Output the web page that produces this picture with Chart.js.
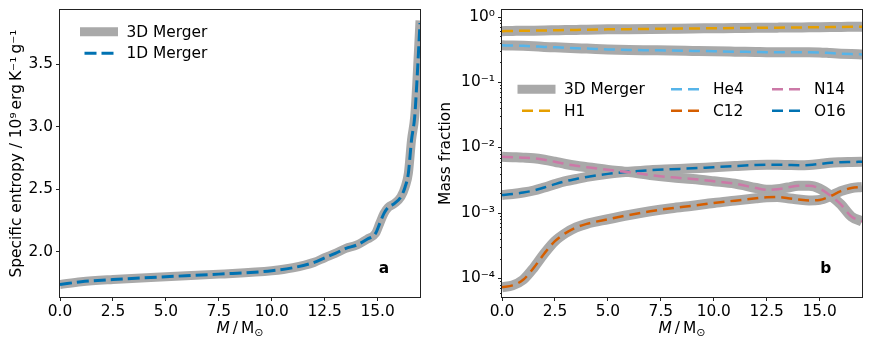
<!DOCTYPE html>
<html>
<head>
<meta charset="utf-8">
<script src="https://cdn.jsdelivr.net/npm/chart.js@4.4.1/dist/chart.umd.min.js"></script>
<style>
  html, body { margin: 0; padding: 0; background: #fff; }
  #wrap { position: relative; width: 872px; height: 345px; }
  canvas { position: absolute; top: 0; }
</style>
</head>
<body>
<div id="wrap">
  <canvas id="entropyChart" width="430" height="345" style="left:0px"></canvas>
  <canvas id="abundChart" width="442" height="345" style="left:430px"></canvas>
</div>
<script>
// panel a: specific entropy (10^9 erg/K/g) against mass coordinate
const massA = [0, 1, 2.5, 5, 7.5, 10, 11, 12, 12.5, 13, 13.5, 14, 14.5, 14.9, 15.1, 15.3, 15.5, 15.8, 16.1, 16.3, 16.45, 16.6, 16.75, 16.85, 17.0];
const entropy3D = [1.738, 1.76, 1.778, 1.80, 1.821, 1.848, 1.872, 1.915, 1.952, 1.987, 2.027, 2.053, 2.10, 2.147, 2.227, 2.307, 2.355, 2.387, 2.44, 2.52, 2.627, 2.894, 3.08, 3.35, 3.85];
const entropy1D = [1.738, 1.76, 1.778, 1.80, 1.821, 1.848, 1.872, 1.915, 1.952, 1.987, 2.027, 2.053, 2.10, 2.147, 2.227, 2.307, 2.355, 2.387, 2.44, 2.52, 2.627, 2.894, 3.08, 3.35, 3.83];

// panel b: mass fractions
const massB = [0, 0.5, 1, 1.5, 2, 2.5, 3, 3.5, 4, 5, 6, 7, 8, 9, 10, 11, 12, 12.5, 13, 13.5, 14, 14.5, 15, 15.5, 16, 16.5, 17];
const h1  = [0.60, 0.605, 0.61, 0.612, 0.615, 0.62, 0.625, 0.628, 0.63, 0.64, 0.645, 0.65, 0.655, 0.66, 0.665, 0.67, 0.675, 0.678, 0.68, 0.682, 0.685, 0.688, 0.69, 0.693, 0.697, 0.70, 0.703];
const he4 = [0.365, 0.362, 0.358, 0.352, 0.345, 0.34, 0.334, 0.329, 0.325, 0.316, 0.31, 0.307, 0.304, 0.30, 0.296, 0.292, 0.288, 0.286, 0.285, 0.285, 0.285, 0.285, 0.284, 0.278, 0.272, 0.268, 0.265];
const c12 = [7.3e-5, 7.8e-5, 9.5e-5, 1.45e-4, 2.4e-4, 3.7e-4, 4.9e-4, 6.0e-4, 6.8e-4, 8.0e-4, 9.3e-4, 1.06e-3, 1.18e-3, 1.29e-3, 1.42e-3, 1.54e-3, 1.67e-3, 1.73e-3, 1.75e-3, 1.68e-3, 1.6e-3, 1.55e-3, 1.58e-3, 1.8e-3, 2.15e-3, 2.4e-3, 2.5e-3];
const n14 = [7.2e-3, 7.1e-3, 7.0e-3, 6.85e-3, 6.5e-3, 6.05e-3, 5.6e-3, 5.25e-3, 5.0e-3, 4.55e-3, 4.2e-3, 3.8e-3, 3.5e-3, 3.3e-3, 3.05e-3, 2.8e-3, 2.4e-3, 2.25e-3, 2.3e-3, 2.45e-3, 2.6e-3, 2.6e-3, 2.35e-3, 1.85e-3, 1.35e-3, 8.8e-4, 7.4e-4];
const o16 = [1.88e-3, 1.95e-3, 2.05e-3, 2.2e-3, 2.45e-3, 2.75e-3, 3.05e-3, 3.3e-3, 3.55e-3, 3.95e-3, 4.25e-3, 4.5e-3, 4.65e-3, 4.8e-3, 5.0e-3, 5.2e-3, 5.4e-3, 5.45e-3, 5.45e-3, 5.4e-3, 5.35e-3, 5.4e-3, 5.6e-3, 5.85e-3, 5.95e-3, 6.0e-3, 6.05e-3];
const speciesNames = ['H1', 'He4', 'C12', 'N14', 'O16'];
const speciesData = [h1, he4, c12, n14, o16];
const speciesColors = ['#E69F00', '#56B4E9', '#D55E00', '#CC79A7', '#0072B2'];

// ticks
const massTicks = [0, 2.5, 5, 7.5, 10, 12.5, 15];
const entropyTicks = [2.0, 2.5, 3.0, 3.5];
const fracTicks = [1e-4, 1e-3, 1e-2, 1e-1, 1];
const supDigits = { '-': '\u207B', '0': '\u2070', '1': '\u00B9', '2': '\u00B2', '3': '\u00B3', '4': '\u2074', '5': '\u2075', '6': '\u2076', '7': '\u2077', '8': '\u2078', '9': '\u2079' };

const FONT = "'DejaVu Sans', sans-serif";
const GREY = '#a9a9a9';
const FS = 15.4;

function pts(xs, ys) { return xs.map((x, i) => ({ x: x, y: ys[i] })); }

function fixAxis(w, h) {
  return function (scale) {
    if (w != null) scale.width = w;
    if (h != null) scale.height = h;
    scale.paddingTop = 0; scale.paddingBottom = 0;
    scale.paddingLeft = 0; scale.paddingRight = 0;
  };
}

function supPow(v) {
  const e = Math.round(Math.log10(v));
  return '10' + String(e).split('').map(c => supDigits[c]).join('');
}

// frame, axis titles, legend and panel letter
function decor(o) {
  return {
    id: 'decor',
    afterDraw(chart) {
      const ctx = chart.ctx, a = chart.chartArea;
      ctx.save();
      // minor ticks on log axis
      if (o.minorTicks) {
        const ys = chart.scales.y;
        ctx.strokeStyle = '#222'; ctx.lineWidth = 1;
        for (let e = -5; e <= 0; e++) {
          for (let k = 1; k <= 9; k++) {
            const v = k * Math.pow(10, e);
            if (v < ys.min || v > ys.max) continue;
            const py = Math.round(ys.getPixelForValue(v)) + 0.5;
            const len = k === 1 ? 4 : 2;
            ctx.beginPath(); ctx.moveTo(a.left - len, py); ctx.lineTo(a.left, py); ctx.stroke();
          }
        }
      }
      // frame
      ctx.strokeStyle = '#222'; ctx.lineWidth = 1;
      ctx.strokeRect(Math.round(a.left) - 0.5, Math.round(a.top) - 0.5, Math.round(a.right - a.left) + 1, Math.round(a.bottom - a.top) + 1);

      ctx.fillStyle = '#000';
      // x title: M / M_sun
      const cx = (a.left + a.right) / 2, by = 333;
      const parts = [
        { t: 'M', f: 'italic ' + FS + 'px ' + FONT, dy: 0 },
        { t: '\u2009/\u2009', f: FS + 'px ' + FONT, dy: 0 },
        { t: 'M', f: FS + 'px ' + FONT, dy: 0 },
        { t: '\u2299', f: '11px ' + FONT, dy: 3 }
      ];
      let tw = 0;
      parts.forEach(p => { ctx.font = p.f; p.w = ctx.measureText(p.t).width; tw += p.w; });
      let x = cx - tw / 2;
      ctx.textBaseline = 'alphabetic'; ctx.textAlign = 'left';
      parts.forEach(p => { ctx.font = p.f; ctx.fillText(p.t, x, by + p.dy); x += p.w; });

      // y title
      ctx.save();
      ctx.translate(o.yTitleX, (a.top + a.bottom) / 2);
      ctx.rotate(-Math.PI / 2);
      ctx.font = FS + 'px ' + FONT; ctx.textAlign = 'center'; ctx.textBaseline = 'middle';
      ctx.fillText(o.yTitle, 0, 0);
      ctx.restore();

      // legend
      ctx.textAlign = 'left'; ctx.textBaseline = 'middle';
      ctx.font = FS + 'px ' + FONT;
      o.legend.forEach(it => {
        ctx.save();
        ctx.beginPath();
        if (it.patch) {
          ctx.strokeStyle = GREY; ctx.lineWidth = 9; ctx.lineCap = 'butt';
          ctx.moveTo(it.x - 4.5, it.y); ctx.lineTo(it.x + 29 + 4.5, it.y);
        } else {
          ctx.strokeStyle = it.color; ctx.lineWidth = it.lw; ctx.lineCap = 'butt';
          ctx.setLineDash(it.dash);
          ctx.moveTo(it.x, it.y); ctx.lineTo(it.x + 29, it.y);
        }
        ctx.stroke();
        ctx.restore();
        ctx.fillText(it.label, it.x + 42, it.y + 1);
      });

      // panel letter
      ctx.font = 'bold ' + FS + 'px ' + FONT; ctx.textAlign = 'center';
      ctx.fillText(o.letter, o.letterX, 269);
      ctx.restore();
    }
  };
}

function axisCommon() {
  return {
    grid: { drawOnChartArea: false, drawTicks: true, tickLength: 4, color: '#222', lineWidth: 1 },
    border: { display: false },
    ticks: { color: '#000', padding: 3, font: { family: FONT, size: FS } }
  };
}

function xAxis() {
  const ax = axisCommon();
  ax.type = 'linear'; ax.min = 0; ax.max = 17.0;
  ax.afterBuildTicks = s => { s.ticks = massTicks.map(v => ({ value: v })); };
  ax.ticks.callback = v => v.toFixed(1);
  ax.ticks.maxRotation = 0;
  ax.ticks.padding = 2;
  ax.afterFit = fixAxis(null, 48);
  return ax;
}

// panel a
const yA = axisCommon();
yA.type = 'linear'; yA.min = 1.638; yA.max = 3.934;
yA.afterBuildTicks = s => { s.ticks = entropyTicks.map(v => ({ value: v })); };
yA.ticks.callback = v => v.toFixed(1);
yA.afterFit = fixAxis(60, null);

new Chart(document.getElementById('entropyChart'), {
  type: 'line',
  data: {
    datasets: [
      { label: '1D Merger', data: pts(massA, entropy1D), borderColor: '#0072B2', borderWidth: 3, borderDash: [12, 5], pointRadius: 0, cubicInterpolationMode: 'monotone', clip: 0, order: 0 },
      { label: '3D Merger', data: pts(massA, entropy3D), borderColor: GREY, borderWidth: 9, pointRadius: 0, cubicInterpolationMode: 'monotone', clip: 0, order: 1 }
    ]
  },
  options: {
    responsive: false, animation: false,
    layout: { padding: { left: 0, top: 10, right: 10, bottom: 0 } },
    plugins: { legend: { display: false }, tooltip: { enabled: false } },
    scales: { x: xAxis(), y: yA }
  },
  plugins: [decor({
    yTitle: 'Specific entropy / 10\u2079\u2009erg\u2009K\u207B\u00B9\u2009g\u207B\u00B9',
    yTitleX: 17,
    letter: 'a', letterX: 384,
    legend: [
      { patch: true, x: 84.5, y: 31.7, label: '3D Merger' },
      { color: '#0072B2', lw: 3, dash: [12, 5], x: 84.5, y: 53.3, label: '1D Merger' }
    ]
  })]
});

// panel b
const yB = axisCommon();
yB.type = 'logarithmic'; yB.min = 5.18e-5; yB.max = 1.265;
yB.grid.display = false;
yB.afterBuildTicks = s => { s.ticks = fracTicks.map(v => ({ value: v, major: true })); };
yB.ticks.callback = v => supPow(v);
yB.afterFit = fixAxis(72, null);

const dsB = [];
speciesData.forEach((arr, i) => {
  dsB.push({ label: speciesNames[i], data: pts(massB, arr), borderColor: speciesColors[i], borderWidth: 2.5, borderDash: [11, 6], pointRadius: 0, cubicInterpolationMode: 'monotone', clip: 0, order: 0 });
});
speciesData.forEach((arr, i) => {
  dsB.push({ label: '3D ' + speciesNames[i], data: pts(massB, arr), borderColor: GREY, borderWidth: 10, pointRadius: 0, cubicInterpolationMode: 'monotone', clip: 0, order: 1 });
});

new Chart(document.getElementById('abundChart'), {
  type: 'line',
  data: { datasets: dsB },
  options: {
    responsive: false, animation: false,
    layout: { padding: { left: 0, top: 10, right: 10, bottom: 0 } },
    plugins: { legend: { display: false }, tooltip: { enabled: false } },
    scales: { x: xAxis(), y: yB }
  },
  plugins: [decor({
    minorTicks: true,
    yTitle: 'Mass fraction',
    yTitleX: 16,
    letter: 'b', letterX: 395.7,
    legend: [
      { patch: true, x: 92, y: 89.3, label: '3D Merger' },
      { color: speciesColors[0], lw: 2.5, dash: [11, 6], x: 92, y: 110.7, label: 'H1' },
      { color: speciesColors[1], lw: 2.5, dash: [11, 6], x: 241, y: 89.3, label: 'He4' },
      { color: speciesColors[2], lw: 2.5, dash: [11, 6], x: 241, y: 110.7, label: 'C12' },
      { color: speciesColors[4], lw: 2.5, dash: [11, 6], x: 342, y: 110.7, label: 'O16' },
      { color: speciesColors[3], lw: 2.5, dash: [11, 6], x: 342, y: 89.3, label: 'N14' }
    ]
  })]
});
</script>
</body>
</html>
